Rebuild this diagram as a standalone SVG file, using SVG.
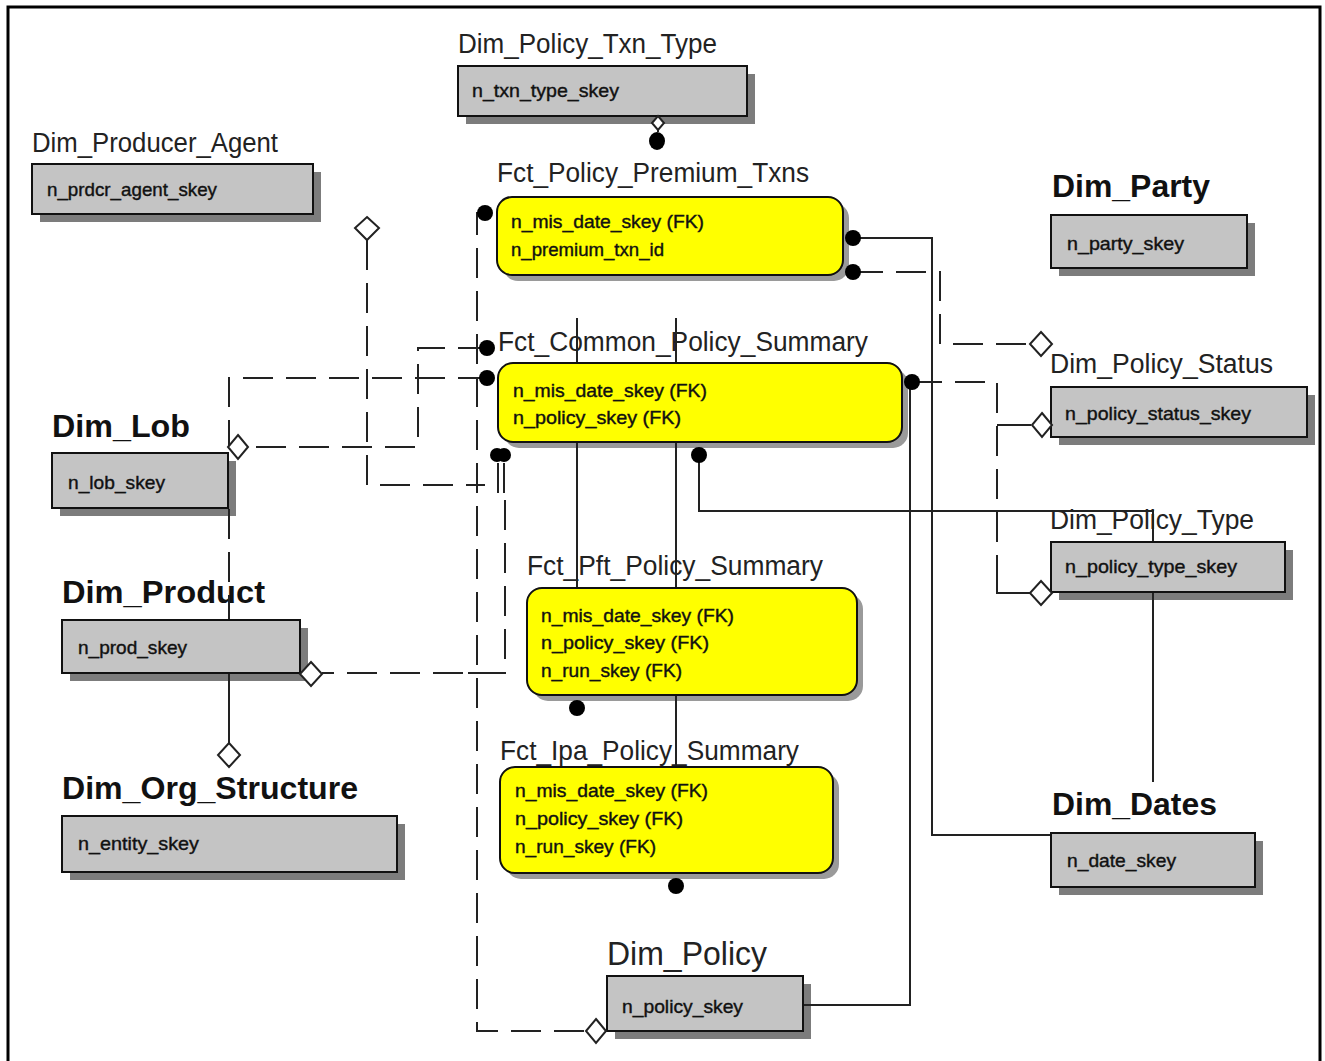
<svg xmlns="http://www.w3.org/2000/svg" width="1325" height="1061" viewBox="0 0 1325 1061">
<defs>
<style>
.title{font-family:"Liberation Sans",Arial,sans-serif;font-size:27px;fill:#222}
.btitle{font-family:"Liberation Sans",Arial,sans-serif;font-size:32px;font-weight:bold;fill:#111}
.attr{font-family:"Liberation Sans",Arial,sans-serif;font-size:19px;fill:#111;stroke:#111;stroke-width:0.4}
.gbox{fill:#c4c4c4;stroke:#111;stroke-width:2}
.gsh{fill:#7c7c7c}
.ybox{fill:#ffff00;stroke:#111;stroke-width:2}
.ysh{fill:#9a9a9a}
.solid{fill:none;stroke:#222;stroke-width:2}
.dash{fill:none;stroke:#222;stroke-width:2;stroke-dasharray:30 13}
.dot{fill:#000}
.dia{fill:#fff;stroke:#222;stroke-width:2}
</style>
</defs>
<rect x="0" y="0" width="1325" height="1061" fill="#fff"/>
<rect x="8" y="7" width="1312" height="1100" fill="none" stroke="#000" stroke-width="3"/>

<g id="Dim_Policy_Txn_Type">
<rect class="gsh" x="466" y="74" width="289" height="50"/>
<rect class="gbox" x="458" y="66" width="289" height="50"/>
<text class="title" x="458" y="53" textLength="259" lengthAdjust="spacingAndGlyphs">Dim_Policy_Txn_Type</text>
<text class="attr" x="472" y="97" textLength="147" lengthAdjust="spacingAndGlyphs">n_txn_type_skey</text>
</g>

<g id="Dim_Producer_Agent">
<rect class="gsh" x="40" y="172" width="281" height="50"/>
<rect class="gbox" x="32" y="164" width="281" height="50"/>
<text class="title" x="32" y="152" textLength="246" lengthAdjust="spacingAndGlyphs">Dim_Producer_Agent</text>
<text class="attr" x="47" y="196" textLength="170" lengthAdjust="spacingAndGlyphs">n_prdcr_agent_skey</text>
</g>

<g id="Fct_Policy_Premium_Txns">
<rect class="ysh" x="503" y="203" width="346" height="78" rx="15"/>
<rect class="ybox" x="497" y="197" width="346" height="78" rx="15"/>
<text class="title" x="497" y="182" textLength="312" lengthAdjust="spacingAndGlyphs">Fct_Policy_Premium_Txns</text>
<text class="attr" x="511" y="228" textLength="193" lengthAdjust="spacingAndGlyphs">n_mis_date_skey (FK)</text>
<text class="attr" x="511" y="256" textLength="153" lengthAdjust="spacingAndGlyphs">n_premium_txn_id</text>
</g>

<g id="Dim_Party">
<rect class="gsh" x="1059" y="223" width="196" height="53"/>
<rect class="gbox" x="1051" y="215" width="196" height="53"/>
<text class="btitle" x="1052" y="197" textLength="158" lengthAdjust="spacingAndGlyphs">Dim_Party</text>
<text class="attr" x="1067" y="250" textLength="117" lengthAdjust="spacingAndGlyphs">n_party_skey</text>
</g>

<g id="Dim_Policy_Status">
<rect class="gsh" x="1059" y="395" width="256" height="50"/>
<rect class="gbox" x="1051" y="387" width="256" height="50"/>
<text class="title" x="1050" y="373" textLength="223" lengthAdjust="spacingAndGlyphs">Dim_Policy_Status</text>
<text class="attr" x="1065" y="420" textLength="186" lengthAdjust="spacingAndGlyphs">n_policy_status_skey</text>
</g>

<g id="Fct_Common_Policy_Summary">
<rect class="ysh" x="504" y="369" width="404" height="79" rx="15"/>
<rect class="ybox" x="498" y="363" width="404" height="79" rx="15"/>
<text class="title" x="498" y="351" textLength="370" lengthAdjust="spacingAndGlyphs">Fct_Common_Policy_Summary</text>
<text class="attr" x="513" y="397" textLength="194" lengthAdjust="spacingAndGlyphs">n_mis_date_skey (FK)</text>
<text class="attr" x="513" y="424" textLength="168" lengthAdjust="spacingAndGlyphs">n_policy_skey (FK)</text>
</g>

<g id="Dim_Lob">
<rect class="gsh" x="60" y="461" width="176" height="55"/>
<rect class="gbox" x="52" y="453" width="176" height="55"/>
<text class="btitle" x="52" y="437" textLength="138" lengthAdjust="spacingAndGlyphs">Dim_Lob</text>
<text class="attr" x="68" y="489" textLength="97" lengthAdjust="spacingAndGlyphs">n_lob_skey</text>
</g>

<g id="Dim_Product">
<rect class="gsh" x="70" y="628" width="238" height="53"/>
<rect class="gbox" x="62" y="620" width="238" height="53"/>
<text class="btitle" x="62" y="603" textLength="203" lengthAdjust="spacingAndGlyphs">Dim_Product</text>
<text class="attr" x="78" y="654" textLength="109" lengthAdjust="spacingAndGlyphs">n_prod_skey</text>
</g>

<g id="Fct_Pft_Policy_Summary">
<rect class="ysh" x="533" y="594" width="330" height="107" rx="15"/>
<rect class="ybox" x="527" y="588" width="330" height="107" rx="15"/>
<text class="title" x="527" y="575" textLength="296" lengthAdjust="spacingAndGlyphs">Fct_Pft_Policy_Summary</text>
<text class="attr" x="541" y="622" textLength="193" lengthAdjust="spacingAndGlyphs">n_mis_date_skey (FK)</text>
<text class="attr" x="541" y="649" textLength="168" lengthAdjust="spacingAndGlyphs">n_policy_skey (FK)</text>
<text class="attr" x="541" y="677" textLength="141" lengthAdjust="spacingAndGlyphs">n_run_skey (FK)</text>
</g>

<g id="Fct_Ipa_Policy_Summary">
<rect class="ysh" x="506" y="773" width="333" height="106" rx="15"/>
<rect class="ybox" x="500" y="767" width="333" height="106" rx="15"/>
<text class="title" x="500" y="760" textLength="299" lengthAdjust="spacingAndGlyphs">Fct_Ipa_Policy_Summary</text>
<text class="attr" x="515" y="797" textLength="193" lengthAdjust="spacingAndGlyphs">n_mis_date_skey (FK)</text>
<text class="attr" x="515" y="825" textLength="168" lengthAdjust="spacingAndGlyphs">n_policy_skey (FK)</text>
<text class="attr" x="515" y="853" textLength="141" lengthAdjust="spacingAndGlyphs">n_run_skey (FK)</text>
</g>

<g id="Dim_Org_Structure">
<rect class="gsh" x="70" y="824" width="335" height="56"/>
<rect class="gbox" x="62" y="816" width="335" height="56"/>
<text class="btitle" x="62" y="799" textLength="296" lengthAdjust="spacingAndGlyphs">Dim_Org_Structure</text>
<text class="attr" x="78" y="850" textLength="121" lengthAdjust="spacingAndGlyphs">n_entity_skey</text>
</g>

<g id="Dim_Policy_Type">
<rect class="gsh" x="1059" y="550" width="234" height="50"/>
<rect class="gbox" x="1051" y="542" width="234" height="50"/>
<text class="title" x="1050" y="529" textLength="204" lengthAdjust="spacingAndGlyphs">Dim_Policy_Type</text>
<text class="attr" x="1065" y="573" textLength="172" lengthAdjust="spacingAndGlyphs">n_policy_type_skey</text>
</g>

<g id="Dim_Dates">
<rect class="gsh" x="1059" y="841" width="204" height="54"/>
<rect class="gbox" x="1051" y="833" width="204" height="54"/>
<text class="btitle" x="1052" y="815" textLength="165" lengthAdjust="spacingAndGlyphs">Dim_Dates</text>
<text class="attr" x="1067" y="867" textLength="109" lengthAdjust="spacingAndGlyphs">n_date_skey</text>
</g>

<g id="Dim_Policy">
<rect class="gsh" x="615" y="984" width="196" height="55"/>
<rect class="gbox" x="607" y="976" width="196" height="55"/>
<text class="title" x="607" y="965" style="font-size:34px" textLength="160" lengthAdjust="spacingAndGlyphs">Dim_Policy</text>
<text class="attr" x="622" y="1013" textLength="121" lengthAdjust="spacingAndGlyphs">n_policy_skey</text>
</g>

<g id="connectors">
<!-- Txn type to premium -->
<path class="solid" d="M658,116 V132"/>
<ellipse class="dot" cx="657" cy="141" rx="8" ry="9"/>
<path class="dia" d="M658,116 L664,123 L658,130 L652,123 Z"/>
<!-- premium left to Dim_Policy -->
<path class="dash" d="M485,213 H477 V1031 H586"/>
<circle class="dot" cx="485" cy="213" r="8"/>
<path class="dia" d="M596,1019 L606,1031 L596,1043 L586,1031 Z"/>
<!-- premium right to Dim_Dates -->
<path class="solid" d="M853,238 H932 V835 H1050"/>
<circle class="dot" cx="853" cy="238" r="8"/>
<!-- premium right to Dim_Policy_Status -->
<path class="dash" d="M853,272 H940 V344 H1030"/>
<circle class="dot" cx="853" cy="272" r="8"/>
<path class="dia" d="M1041,332 L1052,344 L1041,356 L1030,344 Z"/>
<!-- common right to status/type -->
<path class="dash" d="M912,382 H997 V580"/>
<path class="solid" d="M997,580 V593 H1030"/>
<path class="solid" d="M997,425 H1031"/>
<path class="dia" d="M1042,413 L1052,425 L1042,437 L1032,425 Z"/>
<path class="dia" d="M1041,581 L1052,593 L1041,605 L1030,593 Z"/>
<!-- common right to Dim_Policy -->
<path class="solid" d="M910,382 V1005 H804"/>
<circle class="dot" cx="912" cy="382" r="8"/>
<!-- common bottom to policy type -->
<path class="solid" d="M699,455 V511 H1153 V541"/>
<path class="solid" d="M1153,593 V782"/>
<circle class="dot" cx="699" cy="455" r="8"/>
<!-- identifying lines -->
<path class="solid" d="M577,318 V362 M577,443 V587 M676,318 V362 M676,443 V587 M676,696 V766"/>
<circle class="dot" cx="577" cy="708" r="8"/>
<circle class="dot" cx="676" cy="886" r="8"/>
<!-- common left to Dim_Lob -->
<path class="dash" d="M488,348 H418 V447 H248"/>
<circle class="dot" cx="487" cy="348" r="8"/>
<path class="dia" d="M238,435 L248,447 L238,459 L228,447 Z"/>
<!-- common left to Dim_Org_Structure -->
<path class="dash" d="M488,378 H229 V446"/>
<path class="dash" d="M229,509 V619"/>
<path class="dash" d="M229,674 V700"/>
<path class="solid" d="M229,700 V743"/>
<circle class="dot" cx="487" cy="378" r="8"/>
<path class="dia" d="M229,743 L240,755 L229,767 L218,755 Z"/>
<!-- common bottom-left to Dim_Product -->
<circle class="dot" cx="497" cy="455" r="7"/>
<circle class="dot" cx="504" cy="455" r="7"/>
<path class="solid" d="M498,463 V493 M504,463 V493"/>
<path class="dash" d="M505,500 V673 H322"/>
<path class="solid" d="M468,673 H503"/>
<path class="dia" d="M311,662 L322,674 L311,686 L300,674 Z"/>
<!-- producer agent -->
<path class="dash" d="M367,240 V485 H485"/>
<path class="dia" d="M367,217 L379,228 L367,240 L355,228 Z"/>
</g>
</svg>
